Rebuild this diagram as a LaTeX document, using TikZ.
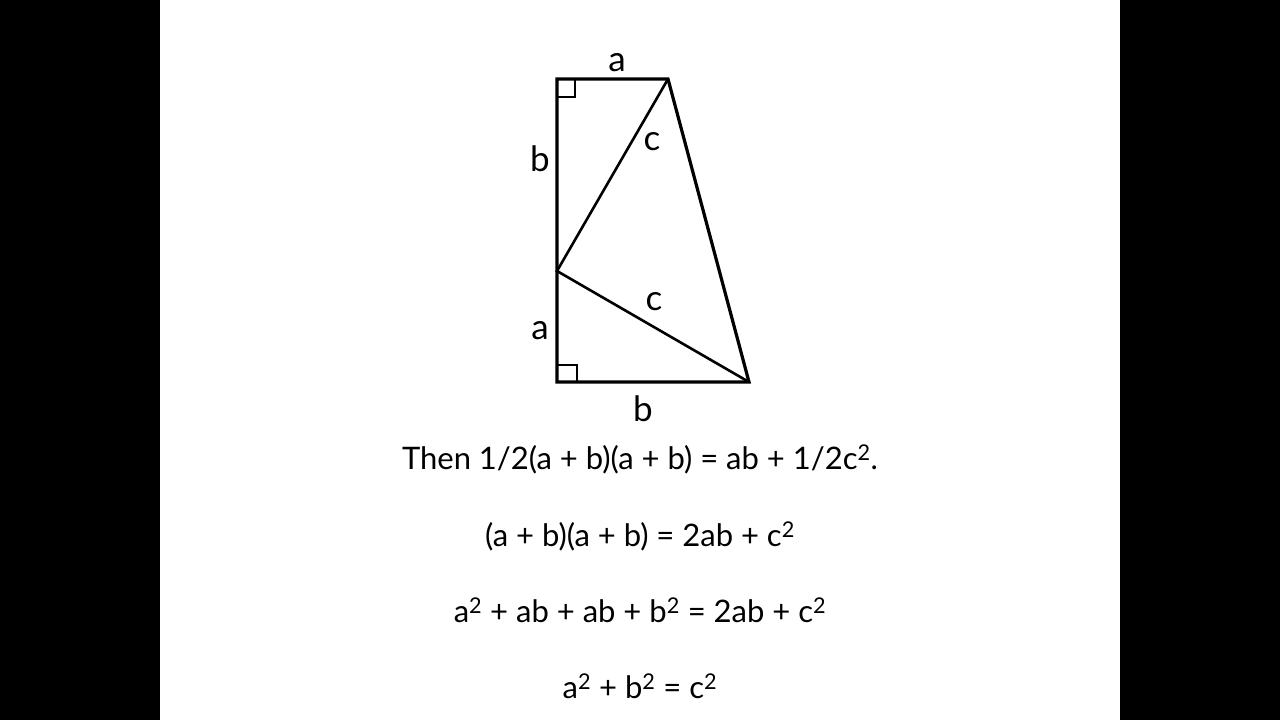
\documentclass[tikz,border=0pt]{standalone}
\usepackage{fontspec}
\setmainfont{Lato}
\begin{document}
\begin{tikzpicture}[x=1pt,y=-1pt]
\tikzset{lbl/.style={font=\fontsize{35}{40}\selectfont, inner sep=0pt},
	eqn/.style={font=\fontsize{31}{36}\selectfont, inner sep=0pt}}
\useasboundingbox (0,0) rectangle (1280,720);
%% Side bars
\fill[black] (0,0) rectangle (160,720);
\fill[black] (1120,0) rectangle (1280,720);
%% Vertices of the trapezoid
\coordinate (TL) at (557,79);
\coordinate (TR) at (668,79);
\coordinate (M) at (557,271);
\coordinate (BL) at (557,382);
\coordinate (BR) at (749,382);
%% Outer perimeter
\draw[line width=3.2pt, line join=miter] (TL) -- (TR) -- (BR) -- (BL) -- cycle;
%% The two hypotenuses
\draw[line width=2.6pt] (TR) -- (M) -- (BR);
%% Right angle marks
\draw[line width=2.2pt] (557,97) -- (575,97) -- (575,79);
\draw[line width=2.2pt] (557,365) -- (577,365) -- (577,382);
%% Side labels
\node[lbl] (la1) at (617,63) {a};
\node[lbl] (lb1) at (540,159) {b};
\node[lbl] (lc1) at (652,142) {c};
\node[lbl] (lc2) at (654,302) {c};
\node[lbl] (la2) at (540,331) {a};
\node[lbl] (lb2) at (643,409) {b};
%% Equations
\node[eqn] (e1) at (640,459) {Then 1/2(a + b)(a + b) = ab + 1/2c\textsuperscript{2}.};
\node[eqn] (e2) at (640,536) {(a + b)(a + b) = 2ab + c\textsuperscript{2}};
\node[eqn] (e3) at (640,610) {a\textsuperscript{2} + ab + ab + b\textsuperscript{2} = 2ab + c\textsuperscript{2}};
\node[eqn] (e4) at (640,686) {a\textsuperscript{2} + b\textsuperscript{2} = c\textsuperscript{2}};
\end{tikzpicture}
\end{document}
